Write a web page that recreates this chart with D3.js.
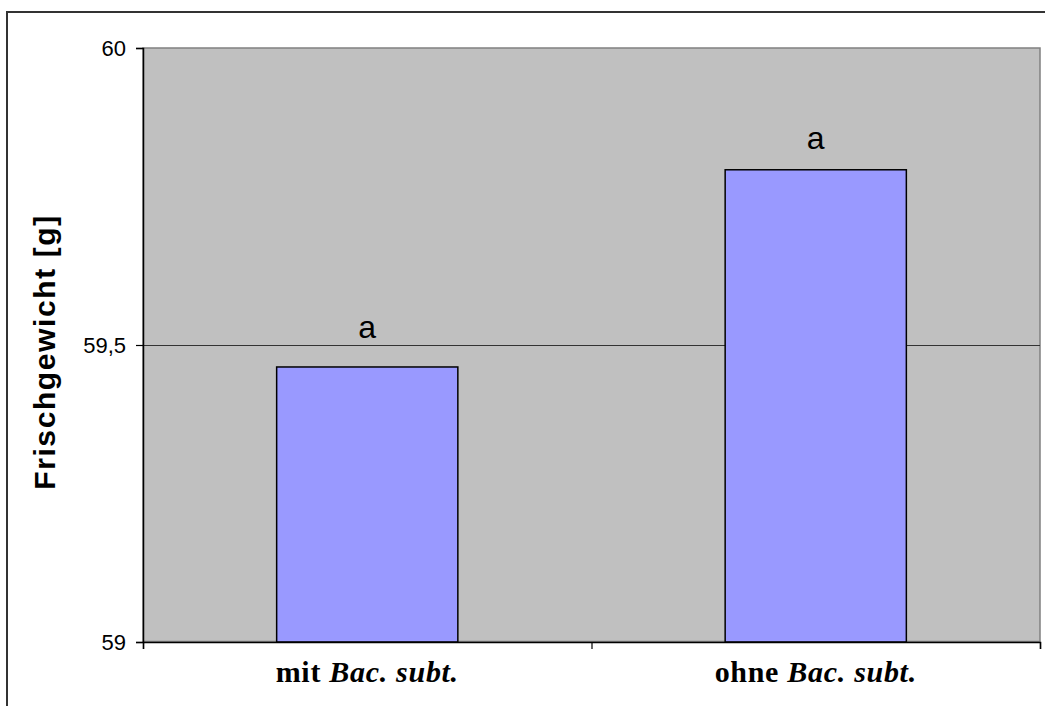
<!DOCTYPE html>
<html><head><meta charset="utf-8">
<script src="https://cdn.jsdelivr.net/npm/d3@7"></script>
<style>body{margin:0;background:#fff}svg{display:block}</style>
</head><body>
<svg id="c" width="1045" height="706"></svg>
<script>
const categories = ["mit", "ohne"];
const categoryItalic = ["Bac. subt.", "Bac. subt."];
const values = [59.463, 59.795];
const sigLetters = ["a", "a"];
const sigLetterPos = [59.511, 59.83];
const yTicks = [59, 59.5, 60];
const yTickLabels = ["59", "59,5", "60"];
const yTitle = "Frischgewicht [g]";

const svg = d3.select("#c");
const m = {left: 143, right: 1040, top: 48, bottom: 642};

svg.append("rect").attr("x", 7).attr("y", 12).attr("width", 1060).attr("height", 720)
  .attr("fill", "#fff").attr("stroke", "#333").attr("stroke-width", 2);

const x = d3.scaleBand().domain(categories).range([m.left, m.right]).paddingInner(0).paddingOuter(0);
const y = d3.scaleLinear().domain([59, 60]).range([m.bottom, m.top]);

// plot area
svg.append("rect").attr("x", m.left).attr("y", m.top)
  .attr("width", m.right - m.left).attr("height", m.bottom - m.top - 0.5)
  .attr("fill", "#C0C0C0").attr("stroke", "#808080").attr("stroke-width", 1.5);

// gridlines
svg.append("g").selectAll("line").data(yTicks.filter(t => t > 59 && t < 60)).join("line")
  .attr("x1", m.left).attr("x2", m.right)
  .attr("y1", d => Math.round(y(d)) + 0.5).attr("y2", d => Math.round(y(d)) + 0.5)
  .attr("stroke", "#333").attr("stroke-width", 1);

// bars
const bw = x.bandwidth() * 0.404;
svg.append("g").selectAll("rect").data(values).join("rect")
  .attr("x", (d, i) => x(categories[i]) + x.bandwidth() / 2 - bw / 2)
  .attr("y", d => y(d))
  .attr("width", bw)
  .attr("height", d => y(59) - y(d))
  .attr("fill", "#9999FF").attr("stroke", "#000").attr("stroke-width", 1.5);

// y axis
const yAxis = d3.axisLeft(y).tickValues(yTicks).tickSize(7).tickPadding(10)
  .tickFormat((d, i) => yTickLabels[yTicks.indexOf(d)]);
const gy = svg.append("g").attr("transform", `translate(${m.left},0)`).call(yAxis);
gy.select(".domain").attr("stroke", "#000").attr("stroke-width", 1.5);
gy.selectAll(".tick line").attr("stroke", "#000").attr("stroke-width", 1.2);
gy.selectAll(".tick text").attr("font-family", "Liberation Sans, Arial, sans-serif")
  .attr("font-size", 22).attr("fill", "#000");

// x axis
const xAxis = d3.axisBottom(d3.scaleLinear().domain([0, 2]).range([m.left, m.right]))
  .tickValues([0, 1, 2]).tickSize(7).tickFormat("");
const gx = svg.append("g").attr("transform", `translate(0,${m.bottom})`).call(xAxis);
gx.select(".domain").attr("stroke", "#000").attr("stroke-width", 1.5);
gx.selectAll(".tick line").attr("stroke", "#000").attr("stroke-width", 1.2);

// category labels
const cl = svg.append("g").selectAll("text").data(categories).join("text")
  .attr("x", d => x(d) + x.bandwidth() / 2)
  .attr("y", 682)
  .attr("text-anchor", "middle")
  .attr("font-family", "Liberation Serif, Times New Roman, serif")
  .attr("font-size", 30).attr("font-weight", "bold").attr("fill", "#000")
  .attr("letter-spacing", 0.7);
cl.append("tspan").text(d => d + " ");
cl.append("tspan").attr("font-style", "italic").text((d, i) => categoryItalic[i]);

// significance letters
svg.append("g").selectAll("text").data(sigLetters).join("text")
  .attr("x", (d, i) => x(categories[i]) + x.bandwidth() / 2)
  .attr("y", (d, i) => y(sigLetterPos[i]))
  .attr("text-anchor", "middle")
  .attr("font-family", "Liberation Sans, Arial, sans-serif")
  .attr("font-size", 32).attr("fill", "#000")
  .text(d => d);

// y title
svg.append("text")
  .attr("transform", `translate(55,352) rotate(-90)`)
  .attr("text-anchor", "middle")
  .attr("font-family", "Liberation Sans, Arial, sans-serif")
  .attr("font-size", 30).attr("font-weight", "bold").attr("fill", "#000")
  .attr("letter-spacing", 1.6)
  .text(yTitle);
</script>
</body></html>
